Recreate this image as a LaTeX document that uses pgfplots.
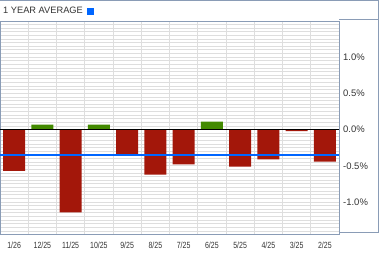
\documentclass[border=0pt]{standalone}
\usepackage{pgfplots}
\pgfplotsset{compat=1.18}
\usepackage{fontspec}
\setmainfont{Liberation Sans}
\newfontfamily\narrowfont[FakeStretch=0.78]{Liberation Sans}
\definecolor{framec}{HTML}{8A9CB6}
\definecolor{gridc}{HTML}{DEDEDE}
\definecolor{barred}{HTML}{A3170A}
\definecolor{bargreen}{HTML}{438A00}
\definecolor{avgblue}{HTML}{0066FF}
\definecolor{txt}{HTML}{333333}
\begin{document}
\begin{tikzpicture}[x=1bp,y=1bp]
\path[use as bounding box] (0,0) rectangle (379,255);
\begin{axis}[at={(0,28)}, anchor=south west, scale only axis,
  width=339bp, height=213bp,
  xmin=-0.5, xmax=11.5, ymin=-1.45, ymax=1.49,
  xtick={0,...,11},
  xticklabels={1/26,12/25,11/25,10/25,9/25,8/25,7/25,6/25,5/25,4/25,3/25,2/25},
  minor xtick={0.5,1.5,...,10.5},
  ytick={-1,-0.5,0,0.5,1},
  yticklabels={-1.0\%,-0.5\%,0.0\%,0.5\%,1.0\%},
  minor ytick={-1.45,-1.4,...,1.46},
  major tick length=0pt, minor tick length=0pt,
  xmajorgrids=false, xminorgrids=true, ymajorgrids=true, yminorgrids=true,
  grid style={gridc, line width=1bp},
  minor grid style={gridc, line width=1bp},
  major grid style={gridc, line width=1bp},
  axis line style={framec, line width=1bp},
  yticklabel pos=right,
  yticklabel style={anchor=west, inner sep=0pt, xshift=4bp, text=txt, font=\fontsize{9.5}{10}\selectfont},
  xticklabel style={inner sep=0pt, yshift=-7bp, text=txt, font=\narrowfont\fontsize{9}{10}\selectfont},
]
\addplot[ybar, bar width=22bp, bar shift=0pt, fill=barred, draw=none] coordinates {
(0,-0.57) (2,-1.14) (4,-0.35) (5,-0.62) (6,-0.48) (8,-0.51) (9,-0.41) (10,-0.02) (11,-0.44)};
\addplot[ybar, bar width=22bp, bar shift=0pt, fill=bargreen, draw=none] coordinates {
(1,0.07) (3,0.07) (7,0.11)};
\addplot[black, line width=1bp] coordinates {(-0.5,0) (11.5,0)};
\addplot[avgblue, line width=2bp] coordinates {(-0.5,-0.356) (11.5,-0.356)};
\end{axis}
\draw[framec, line width=1bp] (0,254.5) -- (378.5,254.5) -- (378.5,22) -- (339,22);
\draw[framec, line width=1bp] (339,235) -- (378.5,235);
\node[anchor=west, inner sep=0pt, text=txt, font=\fontsize{9.3}{10}\selectfont] at (3,244.3) {1 YEAR AVERAGE};
\fill[avgblue] (87,240.3) rectangle (94,247.3);
\end{tikzpicture}
\end{document}
